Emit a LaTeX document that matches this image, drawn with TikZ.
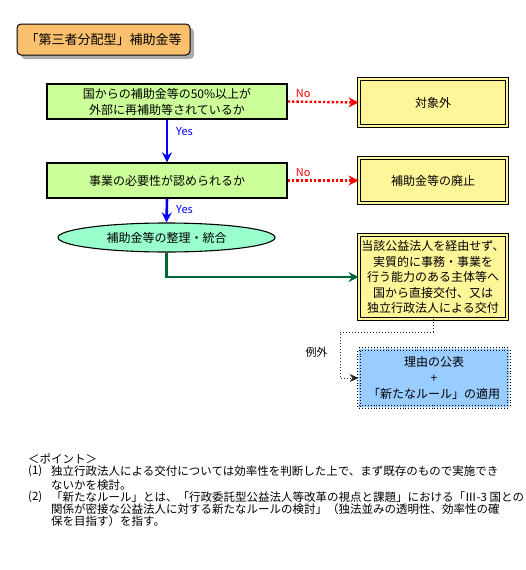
\documentclass[tikz,border=0pt]{standalone}
\usepackage{fontspec}
\setmainfont{Noto Sans CJK JP}
\usetikzlibrary{arrows.meta,shapes.geometric}
\definecolor{titlefill}{RGB}{250,192,110}
\definecolor{greenfill}{RGB}{204,255,153}
\definecolor{yelfill}{RGB}{255,246,153}
\definecolor{mintfill}{RGB}{153,255,204}
\definecolor{bluefill}{RGB}{153,204,255}
\definecolor{darkgreen}{RGB}{0,102,51}
\tikzset{
  qbox/.style={draw=black, line width=1.3pt, fill=greenfill, minimum width=240pt, minimum height=35pt, inner sep=0pt, align=center, font=\fontsize{12}{16}\selectfont},
  rbox/.style={draw=black, double=yelfill, double distance=1.6pt, line width=0.9pt, fill=yelfill, minimum width=148pt, inner sep=0pt, align=center, font=\fontsize{12}{16}\selectfont},
  bbox/.style={draw=black, dotted, double=bluefill, double distance=1.6pt, line width=0.9pt, fill=bluefill, minimum width=150pt, minimum height=58pt, inner sep=0pt, align=center, font=\fontsize{12}{16}\selectfont},
  yesarrow/.style={draw=blue, line width=2.6pt, -{Stealth[length=10pt,width=10pt]}},
  noarrow/.style={draw=red, line width=2.4pt, dash pattern=on 2.4pt off 2pt, -{Stealth[length=10pt,width=10pt]}},
  yeslabel/.style={text=blue, font=\fontsize{11}{12}\selectfont, anchor=west, inner sep=0pt},
  nolabel/.style={text=red, font=\fontsize{11}{12}\selectfont, anchor=south west, inner sep=0pt},
  note/.style={anchor=west, inner sep=0pt, font=\fontsize{11.5}{13}\selectfont}
}
\begin{document}
\begin{tikzpicture}[x=1pt,y=-1pt]
\useasboundingbox (0,0) rectangle (525,570);
% title
\draw[fill=gray!65, draw=none, rounded corners=4pt] (21,28) rectangle (194,59);
\node[draw=black, line width=1pt, fill=titlefill, rounded corners=4pt, minimum width=173pt, minimum height=31pt, inner sep=0pt, font=\fontsize{13}{15}\selectfont] (title) at (103.5,39.5) {「第三者分配型」補助金等};
% boxes
\node[qbox] (q1) at (167,101.5) {国からの補助金等の50\%以上が\\外部に再補助等されているか};
\node[rbox, minimum height=47pt] (r1) at (433,102.5) {対象外};
\node[qbox] (q2) at (167,180.5) {事業の必要性が認められるか};
\node[rbox, minimum height=45pt] (r2) at (433,180.5) {補助金等の廃止};
\node[ellipse, draw=black, line width=1.1pt, fill=mintfill, minimum width=217pt, minimum height=29pt, inner sep=0pt, font=\fontsize{12}{14}\selectfont] (el) at (166.5,237.5) {補助金等の整理・統合};
\node[rbox, minimum height=84pt, font=\fontsize{12}{15.5}\selectfont] (r3) at (433,277) {当該公益法人を経由せず、\\実質的に事務・事業を\\行う能力のある主体等へ\\国から直接交付、又は\\独立行政法人による交付};
\node[bbox] (r4) at (434,378) {理由の公表\\+\\「新たなルール」の適用};
% arrows
\draw[noarrow] (q1.east) -- (r1.west);
\node[nolabel] (no1) at ([xshift=8pt,yshift=4pt]q1.east) {No};
\draw[noarrow] (q2.east |- r2.west) -- (r2.west);
\node[nolabel] (no2) at ([xshift=8pt,yshift=4pt]q2.east |- r2.west) {No};
\draw[yesarrow] (q1.south) -- (q2.north);
\node[yeslabel] (yes1) at ([xshift=9pt,yshift=-12pt]q1.south) {Yes};
\draw[yesarrow] (q2.south) -- (el.north);
\node[yeslabel] (yes2) at ([xshift=9pt,yshift=-11pt]q2.south) {Yes};
\draw[draw=darkgreen, line width=2.6pt, -{Stealth[length=10pt,width=10pt]}] (el.south) |- (r3.west);
\coordinate (k1) at (433,332);
\coordinate (k2) at (340,332);
\draw[dotted, line width=1pt, -{Stealth[length=9pt,width=8pt]}, draw=black!85] (r3.south) -- (k1) -- (k2) |- (r4.west);
\node[anchor=west, font=\fontsize{11}{13}\selectfont] (ex) at (302,352) {例外};
% notes
\node[note] (p0) at (28,459) {＜ポイント＞};
\node[note] (p1n) at (28,471) {(1)};
\node[note] (p1a) at (51,471) {独立行政法人による交付については効率性を判断した上で、まず既存のもので実施でき};
\node[note] (p1b) at (51,485) {ないかを検討。};
\node[note] (p2n) at (28,497) {(2)};
\node[note] (p2a) at (51,497) {「新たなルール」とは、「行政委託型公益法人等改革の視点と課題」における「Ⅲ-3 国との};
\node[note] (p2b) at (51,509) {関係が密接な公益法人に対する新たなルールの検討」（独法並みの透明性、効率性の確};
\node[note] (p2c) at (51,521) {保を目指す）を指す。};
\end{tikzpicture}
\end{document}
